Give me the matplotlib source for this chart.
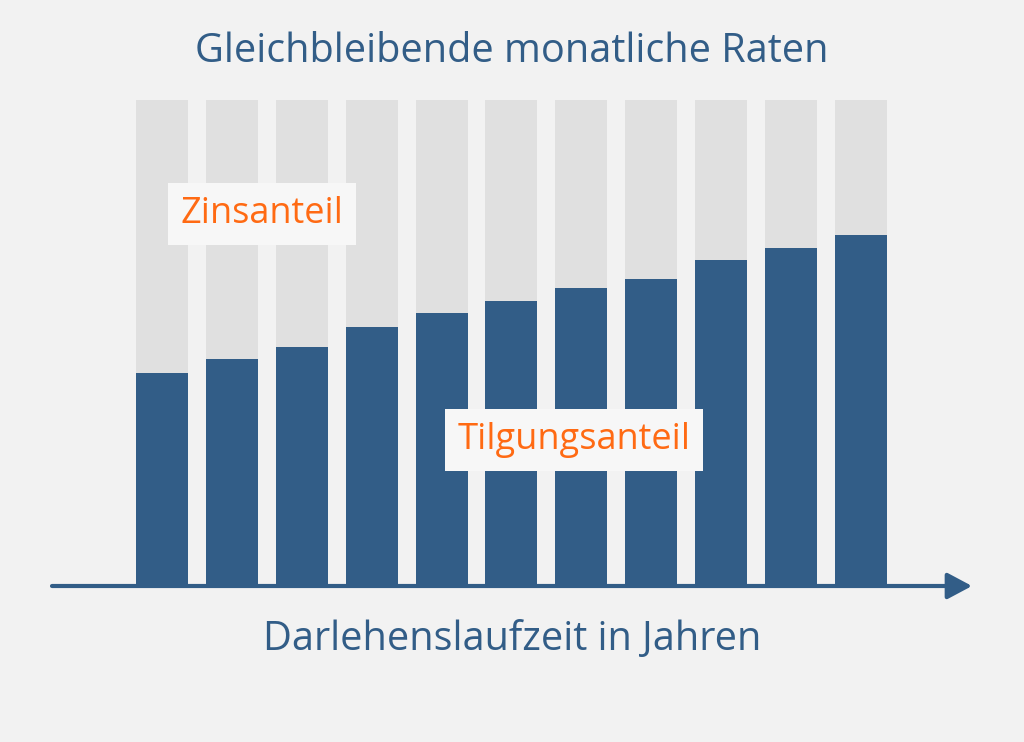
import matplotlib
matplotlib.use("Agg")
import matplotlib.pyplot as plt
import numpy as np

years = list(range(1, 12))
tilgung = [43.8, 46.7, 49.2, 53.3, 56.2, 58.6, 61.3, 63.2, 67.1, 69.5, 72.2]
rate = [100] * 11
title = "Gleichbleibende monatliche Raten"
xlabel = "Darlehenslaufzeit in Jahren"

BG = "#f2f2f2"; BLUE = "#325d87"; GRAY = "#e0e0e0"; ORANGE = "#ff6a13"
plt.rcParams["font.family"] = "Open Sans"

fig = plt.figure(figsize=(10.24, 7.42), dpi=100, facecolor=BG)
ax = fig.add_axes([52/1024, 156/742, 920/1024, 486/742])
ax.set_facecolor(BG)
x = np.arange(len(years))
ax.bar(x, rate, width=0.744, color=GRAY)
ax.bar(x, tilgung, width=0.744, color=BLUE)
ax.set_xlim(-1.574, 11.59)
ax.set_ylim(0, 100)
ax.axis("off")
ax.annotate("", xy=(1.0, 0), xytext=(0, 0), xycoords="axes fraction",
            arrowprops=dict(arrowstyle="-|>,head_length=1.5,head_width=0.8", color=BLUE, lw=3,
                            shrinkA=0, shrinkB=0))

fig.text(0.5, 1 - 52/742, title, ha="center", va="center", color=BLUE, fontsize=28.5)
fig.text(0.5, 1 - 640/742, xlabel, ha="center", va="center", color=BLUE, fontsize=28.5)
fig.text(262/1024, 1 - 214/742, "Zinsanteil", ha="center", va="center", color=ORANGE, fontsize=26,
         bbox=dict(boxstyle="square,pad=0.35", fc="#f7f7f7", ec="none"))
fig.text(574/1024, 1 - 440/742, "Tilgungsanteil", ha="center", va="center", color=ORANGE, fontsize=26,
         bbox=dict(boxstyle="square,pad=0.35", fc="#f7f7f7", ec="none"))
fig.savefig("out.png", dpi=100, facecolor=BG)
